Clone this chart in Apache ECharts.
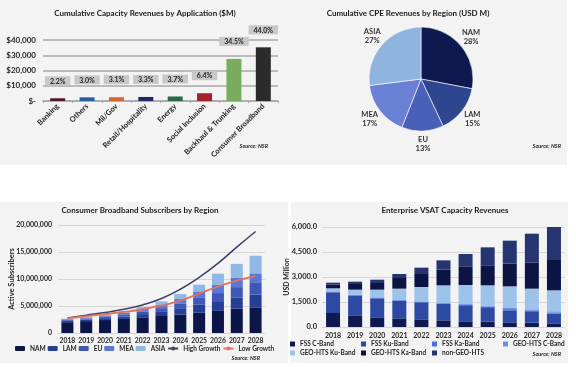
<!DOCTYPE html>
<html><head><meta charset="utf-8">
<script src="https://cdn.jsdelivr.net/npm/echarts@6/dist/echarts.min.js"></script>
<style>html,body{margin:0;padding:0;background:#fff}#c{width:576px;height:367px}</style>
</head><body><div id="c"></div><script>
// ---- Panel 1: Cumulative Capacity Revenues by Application ($M)
const appCategories = ['Banking','Others','Mil/Gov','Retail/Hospitality','Energy','Social Inclusion','Backhaul & Trunking','Consumer Broadband'];
const appRevenue = [1800, 2400, 2500, 2650, 2950, 5100, 27600, 35200];
const appShareLabels = ['2.2%','3.0%','3.1%','3.3%','3.7%','6.4%','34.5%','44.0%'];
const appColors = ['#4b1c2c','#2d5c9c','#d2692c','#1d2a66','#2a6b3e','#a4202e','#7aab5f','#2b2b2b'];

// ---- Panel 2: Cumulative CPE Revenues by Region (USD M)
const cpeRegions = ['NAM','LAM','EU','MEA','ASIA'];
const cpeShare = [28, 15, 13, 17, 27];
const cpeColors = ['#0e1a4f','#2e4690','#4a5fb8','#6a80d4','#8fb4e0'];

// ---- Panel 3: Consumer Broadband Subscribers by Region
const years = ['2018','2019','2020','2021','2022','2023','2024','2025','2026','2027','2028'];
const subsNAM  = [2000000,2200000,2400000,2600000,2900000,3150000,3400000,3750000,4100000,4500000,4750000];
const subsLAM  = [250000,300000,350000,450000,600000,750000,1050000,1500000,1800000,2100000,2350000];
const subsEU   = [150000,200000,250000,400000,500000,700000,950000,1250000,1500000,1900000,2300000];
const subsMEA  = [150000,150000,250000,300000,450000,650000,950000,1200000,1500000,1700000,1650000];
const subsASIA = [100000,150000,150000,250000,350000,600000,850000,1250000,2100000,2600000,3250000];
const highGrowth = [2800000,3300000,3800000,4400000,5200000,6400000,8100000,10300000,12900000,15900000,18800000];
const lowGrowth  = [2700000,3100000,3500000,3900000,4400000,5100000,6000000,7300000,8600000,9700000,10600000];

// ---- Panel 4: Enterprise VSAT Capacity Revenues (USD Million)
const fssC    = [840,700,580,520,460,400,340,320,280,260,220];
const fssKu   = [1240,1180,1140,1040,1020,980,920,820,720,640,580];
const fssKa   = [40,40,40,40,40,40,70,70,70,70,60];
const htsC    = [20,20,20,20,20,20,50,70,70,90,80];
const htsKu   = [180,300,460,680,860,1060,1140,1220,1300,1240,1260];
const htsKa   = [220,340,400,640,780,940,1120,1200,1360,1560,1820];
const nonGeo  = [120,140,200,240,380,560,740,1080,1380,1740,2160];

const FONT = 'Lato, "Open Sans", sans-serif';
const TXT = '#262626';

function num(v){ return Number(v).toLocaleString('en-US'); }

const chart = echarts.init(document.getElementById('c'), null, {renderer:'canvas'});

function titleText(x, y, t){
  return {type:'text', z:5, style:{x:x, y:y, text:t, fill:'#1a1a1a', font:'bold 8px ' + FONT, textAlign:'center', textVerticalAlign:'middle'}};
}
function sourceText(x, y){
  return {type:'text', z:5, style:{x:x, y:y, text:'Source: NSR', fill:'#1a1a1a', font:'italic bold 5.5px ' + FONT, textAlign:'right', textVerticalAlign:'middle'}};
}

const vsatNames = ['FSS C-Band','FSS Ku-Band','FSS Ka-Band','GEO-HTS C-Band','GEO-HTS Ku-Band','GEO-HTS Ka-Band','non-GEO-HTS'];
const vsatData = [fssC, fssKu, fssKa, htsC, htsKu, htsKa, nonGeo];
const vsatColors = ['#0f1b50','#2d49a3','#4f6ed8','#6e8ee6','#9dc3eb','#0b1442','#24356f'];

const subsNames = ['NAM','LAM','EU','MEA','ASIA'];
const subsData = [subsNAM, subsLAM, subsEU, subsMEA, subsASIA];
const subsColors = ['#0b1548','#263f94','#3f58b8','#5b78d6','#90b8e6'];
const subsLegendNames = ['NAM','LAM','EU','MEA','ASIA','High Growth','Low Growth'];

const series = [];
// panel 1
series.push({
  type:'bar', xAxisIndex:0, yAxisIndex:0, barWidth:15,
  data: appRevenue.map((v,i)=>({value:v, itemStyle:{color:appColors[i]}})),
  label:{show:true, position:'top', distance:13, formatter:(p)=>appShareLabels[p.dataIndex],
    backgroundColor:'#c8c8c8', padding:[1,5,0,5], fontSize:7, fontWeight:'bold', color:TXT, fontFamily:FONT, lineHeight:8}
});
// panel 2 pie
series.push({
  type:'pie', center:[421,79], radius:52, startAngle:90, clockwise:true, avoidLabelOverlap:false,
  data: cpeRegions.map((n,i)=>({name:n, value:cpeShare[i], itemStyle:{color:cpeColors[i]}})),
  itemStyle:{borderColor:'#ffffff', borderWidth:0.6},
  label:{show:true, position:'outside', formatter:'{b}\n{d}%', fontSize:7.5, fontWeight:'bold', color:'#333', fontFamily:FONT, lineHeight:9, align:'center'},
  labelLine:{show:true, length:13, length2:0, lineStyle:{opacity:0}},
  labelLayout:function(p){
    const pts = p.labelLinePoints;
    if(!pts) return {};
    return {x:pts[2][0], y:pts[2][1], align:'center', verticalAlign:'middle'};
  },
  emphasis:{disabled:true}
});
// panel 3
subsNames.forEach((n,i)=>{
  series.push({type:'bar', name:n, stack:'subs', xAxisIndex:1, yAxisIndex:1, barWidth:12, data:subsData[i], itemStyle:{color:subsColors[i]}});
});
series.push({type:'line', name:'High Growth', xAxisIndex:1, yAxisIndex:1, data:highGrowth, smooth:true, symbol:'none', lineStyle:{color:'#3b3f6b', width:1.5}, itemStyle:{color:'#3b3f6b'}, z:5});
series.push({type:'line', name:'Low Growth', xAxisIndex:1, yAxisIndex:1, data:lowGrowth, smooth:true, symbol:'none', lineStyle:{color:'#e0735f', width:1.8}, itemStyle:{color:'#e0735f'}, z:5});
// panel 4
vsatNames.forEach((n,i)=>{
  series.push({type:'bar', name:n, stack:'vsat', xAxisIndex:2, yAxisIndex:2, barWidth:14, data:vsatData[i], itemStyle:{color:vsatColors[i]}});
});

const axisLabelBase = {color:TXT, fontFamily:FONT, fontWeight:'bold'};

const vsatLegendLeft = [290, 361, 432, 503, 290, 361, 432];
const vsatLegendTop  = [340.5, 340.5, 340.5, 340.5, 349.5, 349.5, 349.5];
const legends = [{left:15, top:345, padding:0, itemWidth:10, itemHeight:5, itemGap:2, selectedMode:false,
  data:subsLegendNames, textStyle:{color:TXT, fontFamily:FONT, fontWeight:'bold', fontSize:6.5}}];
vsatNames.forEach((n,i)=>{
  legends.push({left:vsatLegendLeft[i], top:vsatLegendTop[i], padding:0, itemWidth:5, itemHeight:5, selectedMode:false, icon:'rect',
    data:[n], textStyle:{color:TXT, fontFamily:FONT, fontWeight:'bold', fontSize:6.5}});
});

const option = {
  animation:false,
  graphic:[
    {type:'rect', z:-10, shape:{x:0,y:0,width:567,height:165}, style:{fill:'#f3f3f3'}},
    {type:'rect', z:-10, shape:{x:0,y:202,width:288,height:161}, style:{fill:'#f3f3f3'}},
    {type:'rect', z:-10, shape:{x:291,y:202,width:277,height:161}, style:{fill:'#f3f3f3'}},
    titleText(145, 13, 'Cumulative Capacity Revenues by Application ($M)'),
    titleText(408, 13, 'Cumulative CPE Revenues by Region (USD M)'),
    titleText(140, 210, 'Consumer Broadband Subscribers by Region'),
    titleText(445, 210, 'Enterprise VSAT Capacity Revenues'),
    sourceText(268, 146), sourceText(561, 146), sourceText(260, 358), sourceText(561, 354)
  ],
  grid:[
    {left:43, top:40, width:235, height:61},
    {left:58, top:225, width:207, height:108},
    {left:322, top:227, width:243, height:100}
  ],
  xAxis:[
    {type:'category', gridIndex:0, data:appCategories,
      axisLine:{lineStyle:{color:'#a8a8a8', width:1.5}}, axisTick:{show:true, length:2, lineStyle:{color:'#a8a8a8'}},
      axisLabel:Object.assign({}, axisLabelBase, {rotate:45, interval:0, fontSize:7.5, margin:4})},
    {type:'category', gridIndex:1, data:years,
      axisLine:{show:false}, axisTick:{show:false},
      axisLabel:Object.assign({}, axisLabelBase, {fontSize:6.8, margin:4, interval:0})},
    {type:'category', gridIndex:2, data:years,
      axisLine:{show:false}, axisTick:{show:false},
      axisLabel:Object.assign({}, axisLabelBase, {fontSize:7, margin:5, interval:0})}
  ],
  yAxis:[
    {type:'value', gridIndex:0, min:0, max:40000, interval:10000,
      axisLine:{show:false}, axisTick:{show:false},
      splitLine:{lineStyle:{color:'#a8a8a8', width:1.5}},
      axisLabel:Object.assign({}, axisLabelBase, {fontSize:8, margin:7, formatter:(v)=> v===0 ? '$-' : '$'+num(v)})},
    {type:'value', gridIndex:1, min:0, max:20000000, interval:5000000,
      name:'Active Subscribers', nameLocation:'middle', nameGap:42, nameMoveOverlap:false,
      nameTextStyle:{color:TXT, fontFamily:FONT, fontWeight:'bold', fontSize:7.5},
      axisLine:{show:false}, axisTick:{show:false},
      splitLine:{lineStyle:{color:'#d6d6d6', width:1}},
      axisLabel:Object.assign({}, axisLabelBase, {fontSize:7, margin:6, formatter:(v)=>num(v)})},
    {type:'value', gridIndex:2, min:0, max:6000, interval:1500,
      name:'USD Million', nameLocation:'middle', nameGap:32, nameMoveOverlap:false,
      nameTextStyle:{color:TXT, fontFamily:FONT, fontWeight:'bold', fontSize:7},
      axisLine:{show:false}, axisTick:{show:false},
      splitLine:{lineStyle:{color:'#d6d6d6', width:1}},
      axisLabel:Object.assign({}, axisLabelBase, {fontSize:7.5, margin:5, formatter:(v)=>Number(v).toLocaleString('en-US',{minimumFractionDigits:1, maximumFractionDigits:1})})}
  ],
  legend:legends,
  series:series
};
chart.setOption(option);
</script></body></html>
